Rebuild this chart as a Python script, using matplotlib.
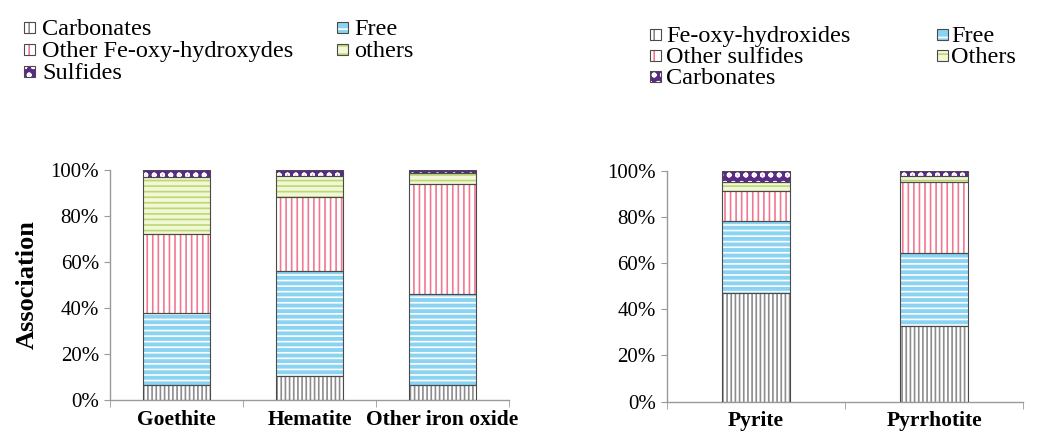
import matplotlib
matplotlib.use("Agg")
import matplotlib.pyplot as plt
from matplotlib.patches import Rectangle
from matplotlib.ticker import PercentFormatter
import numpy as np

SERIF = ["Liberation Serif", "DejaVu Serif"]
plt.rcParams["font.family"] = SERIF
plt.rcParams["hatch.linewidth"] = 1.2

# Iron oxides (percent of grain association)
oxide_minerals = ["Goethite", "Hematite", "Other iron oxide"]
oxide_classes = ["Carbonates", "Free", "Other Fe-oxy-hydroxydes", "others",
                 "Sulfides"]
oxide_carbonates = [6.5, 10.4, 6.5]
oxide_free = [31.5, 45.8, 39.5]
oxide_other_feoxy = [34.0, 32.1, 47.8]
oxide_others = [24.8, 9.1, 5.0]
oxide_sulfides = [3.2, 2.6, 1.2]

# Sulfides (percent of grain association)
sulfide_minerals = ["Pyrite", "Pyrrhotite"]
sulfide_classes = ["Fe-oxy-hydroxides", "Free", "Other sulfides", "Others",
                   "Carbonates"]
sulfide_feoxy = [46.9, 32.7]
sulfide_free = [31.3, 31.5]
sulfide_other_sulfides = [13.0, 30.9]
sulfide_others = [3.9, 2.7]
sulfide_carbonates = [4.9, 2.2]

y_ticks = [0, 20, 40, 60, 80, 100]

# fill style per stacking level: (face, hatch colour, hatch)
STYLES = [
    ("white", "#8c8c8c", "||||"),   # bottom: gray stripes
    ("#8ad3f2", "white", "---"),    # blue bricks
    ("white", "#f07890", "|||"),    # red stripes
    ("#f2f7d8", "#bcd870", "---"),  # green lines
    ("#5a2a86", "white", "oo"),     # purple dots
]
OUTLINE = "#4a4a4a"
AXIS_GRAY = "#9a9a9a"
W, H = 1042, 438


def stacked(ax, labels, layers, width):
    x = np.arange(len(labels))
    bottom = np.zeros(len(labels))
    for values, (face, hcol, hatch) in zip(layers, STYLES):
        vals = np.asarray(values, dtype=float)
        ax.bar(x, vals, width, bottom=bottom, color=face, edgecolor=hcol,
               hatch=hatch, linewidth=0, zorder=2)
        ax.bar(x, vals, width, bottom=bottom, fill=False, edgecolor=OUTLINE,
               linewidth=0.8, zorder=3)
        bottom += vals
    ax.set_xlim(-0.5, len(labels) - 0.5)
    ax.set_ylim(0, 100)
    ax.set_yticks(y_ticks)
    ax.yaxis.set_major_formatter(PercentFormatter(decimals=0))
    ax.set_xticks(x)
    ax.set_xticklabels(labels, fontweight="bold", fontsize=15.5)
    ax.set_xticks(np.arange(len(labels) + 1) - 0.5, minor=True)
    ax.tick_params(axis="x", which="major", length=0, pad=7)
    ax.tick_params(axis="x", which="minor", length=5, color=AXIS_GRAY)
    ax.tick_params(axis="y", length=4, color=AXIS_GRAY, labelsize=15, pad=4)
    for side in ("top", "right"):
        ax.spines[side].set_visible(False)
    for side in ("left", "bottom"):
        ax.spines[side].set_color(AXIS_GRAY)
        ax.spines[side].set_linewidth(1.0)


def key_entry(fig, x_box, x_text, baseline, style, label, size=17.5):
    """Swatch plus label, positioned in pixels from the top-left corner."""
    face, hcol, hatch = style
    box = 11
    x0, y0 = x_box / W, 1 - (baseline - 2) / H
    fig.add_artist(Rectangle((x0, y0), box / W, box / H,
                             transform=fig.transFigure, facecolor=face,
                             edgecolor=hcol, hatch=hatch[:2], linewidth=0))
    fig.add_artist(Rectangle((x0, y0), box / W, box / H,
                             transform=fig.transFigure, fill=False,
                             edgecolor=OUTLINE, linewidth=0.8))
    fig.text(x_text / W, 1 - baseline / H, label, fontsize=size,
             va="baseline", ha="left")


fig = plt.figure(figsize=(10.42, 4.38), dpi=100)

ax1 = fig.add_axes([0.1056, 0.0868, 0.3829, 0.5251])
stacked(ax1, oxide_minerals, [oxide_carbonates, oxide_free, oxide_other_feoxy,
                              oxide_others, oxide_sulfides], width=0.51)
ax1.set_ylabel("Association", fontweight="bold", fontsize=19, labelpad=8)

ax2 = fig.add_axes([0.6401, 0.0829, 0.3417, 0.5274])
stacked(ax2, sulfide_minerals, [sulfide_feoxy, sulfide_free,
                                sulfide_other_sulfides, sulfide_others,
                                sulfide_carbonates], width=0.38)

# keys: first column holds levels 0, 2, 4; second column levels 1, 3
left_slots = {0: (24, 42, 35), 2: (24, 42, 57), 4: (24, 42, 79),
              1: (337, 354, 35), 3: (337, 354, 57)}
for i, label in enumerate(oxide_classes):
    xb, xt, bl = left_slots[i]
    key_entry(fig, xb, xt, bl, STYLES[i], label)

right_slots = {0: (650, 666, 42), 2: (650, 666, 63), 4: (650, 666, 84),
               1: (937, 951, 42), 3: (937, 951, 63)}
for i, label in enumerate(sulfide_classes):
    xb, xt, bl = right_slots[i]
    key_entry(fig, xb, xt, bl, STYLES[i], label)

fig.savefig("out.png", dpi=100)
